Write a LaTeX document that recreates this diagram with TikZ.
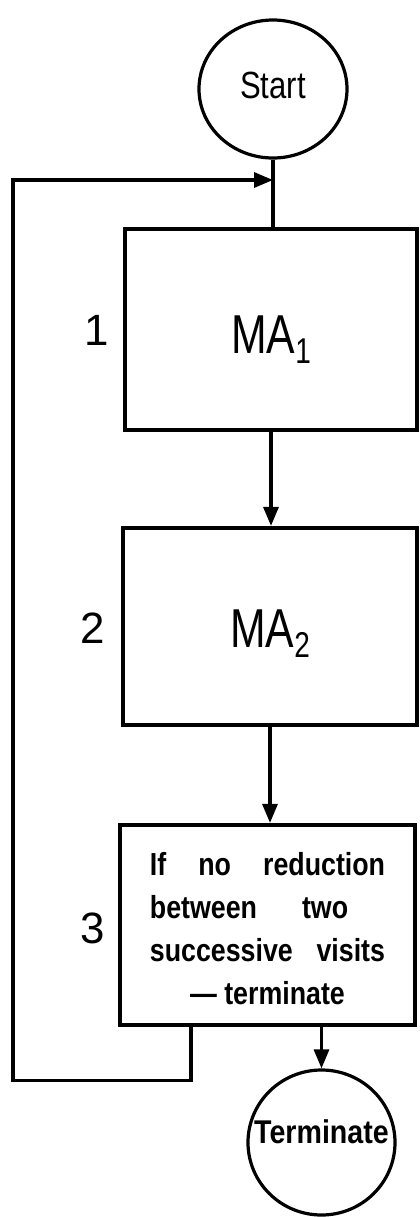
\documentclass[tikz,border=0pt]{standalone}
\usepackage{fontspec}
\usepackage{graphicx}
\setmainfont{Liberation Sans}
\usetikzlibrary{arrows.meta,shapes.geometric}
\newcommand{\sqz}[2]{\scalebox{#1}[1]{#2}}
\begin{document}
\begin{tikzpicture}[x=1bp,y=-1bp,
  term/.style={draw,ellipse,line width=3.2bp,inner sep=0pt},
  stepbox/.style={draw,rectangle,line width=4.2bp,inner sep=0pt},
  conn/.style={line width=3.2bp,-{Triangle[length=19bp,width=15bp]}},
  wire/.style={line width=3.2bp},
  num/.style={font=\fontsize{44}{44}\selectfont,inner sep=0pt}]
\useasboundingbox (0,0) rectangle (419,1217);
% terminals
\node[term,minimum width=148bp,minimum height=138bp,text height=22bp,text depth=4bp] (start) at (273,89)
  {\makebox[0pt][c]{\fontsize{38}{38}\selectfont\sqz{0.82}{Start}}};
\node[term,minimum width=147bp,minimum height=145bp,text height=23bp,text depth=22bp] (stop) at (321.5,1142.5)
  {\makebox[0pt][c]{\bfseries\fontsize{33}{33}\selectfont\sqz{0.87}{Terminate}}};
% boxes
\node[stepbox,minimum width=292bp,minimum height=201bp,text height=47bp,text depth=0bp] (box1) at (271,329.5)
  {\fontsize{55}{55}\selectfont\sqz{0.78}{MA\raisebox{-10bp}{\fontsize{36}{36}\selectfont 1}}};
\node[stepbox,minimum width=294bp,minimum height=197bp,text height=41bp,text depth=0bp] (box2) at (270,626.5)
  {\fontsize{55}{55}\selectfont\sqz{0.78}{MA\raisebox{-10bp}{\fontsize{36}{36}\selectfont 2}}};
\node[stepbox,minimum width=295bp,minimum height=200bp,align=center,font=\bfseries\fontsize{32}{43}\selectfont] (box3) at (267.5,925)
  {\rule{0pt}{30bp}\sqz{0.84}{\makebox[280bp][s]{If no reduction}}\\
   \sqz{0.84}{\makebox[280bp][l]{\makebox[236bp][s]{between two}}}\\
   \sqz{0.84}{\makebox[280bp][s]{successive visits}}\\
   \sqz{0.84}{— terminate}};
% step numbers
\node[num] (n1) at (96.5,330) {1};
\node[num] (n2) at (93,628) {2};
\node[num] (n3) at (93,928) {3};
% connectors
\coordinate (j) at (273,180);
\draw[wire] (start.south) -- (start.south |- box1.north);
\draw[conn] (box1.south) -- (box1.south |- box2.north);
\draw[conn] (box2.south) -- (box2.south |- box3.north);
\draw[conn] (stop.north |- box3.south) -- (stop.north);
\draw[conn] ([xshift=73bp]box3.south west) -- ++(0,53) -| (13,180) -- (j);
\end{tikzpicture}
\end{document}
